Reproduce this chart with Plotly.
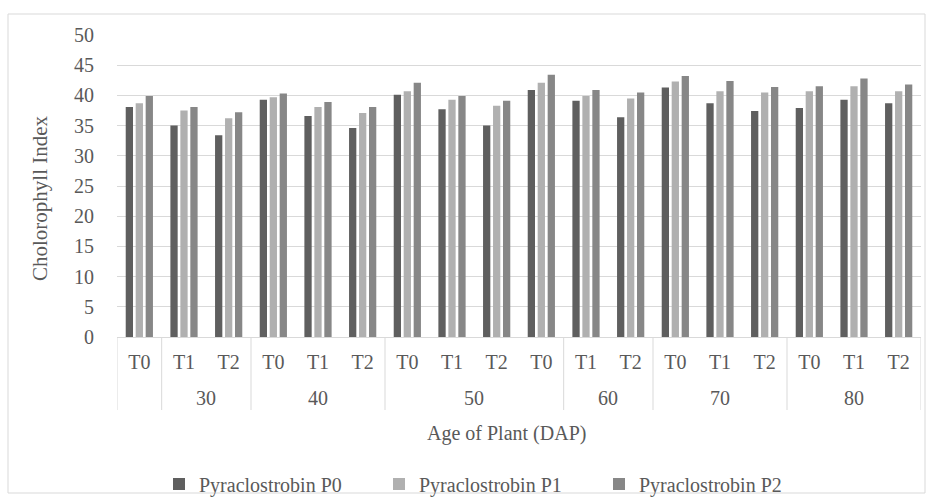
import plotly.graph_objects as go

# ---- data ----
ages = ["", "30", "30", "40", "40", "40", "50", "50", "50", "50",
        "60", "60", "70", "70", "70", "80", "80", "80"]
treatments = ["T0", "T1", "T2", "T0", "T1", "T2", "T0", "T1", "T2", "T0",
              "T1", "T2", "T0", "T1", "T2", "T0", "T1", "T2"]
series_names = ["Pyraclostrobin P0", "Pyraclostrobin P1", "Pyraclostrobin P2"]
p0 = [38.1, 35.0, 33.4, 39.3, 36.6, 34.6, 40.1, 37.7, 35.0, 40.9,
      39.1, 36.4, 41.3, 38.7, 37.4, 37.9, 39.3, 38.7]
p1 = [38.7, 37.5, 36.2, 39.7, 38.1, 37.1, 40.7, 39.3, 38.3, 42.1,
      39.9, 39.5, 42.3, 40.7, 40.5, 40.7, 41.5, 40.7]
p2 = [39.9, 38.1, 37.2, 40.3, 38.9, 38.1, 42.1, 39.9, 39.1, 43.4,
      40.9, 40.5, 43.2, 42.4, 41.4, 41.5, 42.8, 41.8]
y_ticks = [0, 5, 10, 15, 20, 25, 30, 35, 40, 45, 50]

# ---- style ----
colors = ["#5f5f5f", "#b0b0b0", "#878787"]
FONT = "Liberation Serif"
TXT = "#595959"
GRID = "#d9d9d9"

W, H = 931, 500
ML, MR, MT, MB = 117, 10, 35, 163
PW, PH = W - ML - MR, H - MT - MB


def px_x(x):
    return (x - ML) / PW


def px_y(y):
    return (H - MB - y) / PH


xs = list(range(len(treatments)))

fig = go.Figure()
for name, vals, c in zip(series_names, [p0, p1, p2], colors):
    fig.add_trace(go.Bar(x=xs, y=vals, name=name, marker=dict(color=c, line=dict(width=0))))

# group spans
groups = []
start = 0
for i in range(1, len(ages) + 1):
    if i == len(ages) or ages[i] != ages[start]:
        groups.append((ages[start], start, i - 1))
        start = i

annotations = []
shapes = []
div_y0 = px_y(410)
for label, a, b in groups:
    if label:
        annotations.append(dict(x=(a + b) / 2, y=px_y(398), xref="x", yref="paper",
                                text=label, showarrow=False, yanchor="middle",
                                font=dict(family=FONT, size=20, color=TXT)))
    shapes.append(dict(type="line", xref="x", yref="paper", x0=a - 0.5, x1=a - 0.5,
                       y0=div_y0, y1=0, line=dict(color=GRID, width=1)))
shapes.append(dict(type="line", xref="x", yref="paper", x0=len(xs) - 0.5, x1=len(xs) - 0.5,
                   y0=div_y0, y1=0, line=dict(color=GRID, width=1)))
# outer chart frame
shapes.append(dict(type="rect", xref="paper", yref="paper",
                   x0=px_x(8), x1=px_x(925), y0=px_y(493), y1=px_y(14),
                   line=dict(color=GRID, width=1), fillcolor="rgba(0,0,0,0)", layer="below"))

annotations.append(dict(x=px_x(506), y=px_y(433), xref="paper", yref="paper",
                        text="Age of Plant (DAP)", showarrow=False, yanchor="middle",
                        font=dict(family=FONT, size=20, color=TXT)))
annotations.append(dict(x=px_x(40), y=px_y(198), xref="paper", yref="paper",
                        text="Cholorophyll Index", showarrow=False, textangle=-90,
                        xanchor="center", yanchor="middle",
                        font=dict(family=FONT, size=21, color=TXT)))

fig.update_layout(
    width=W, height=H,
    margin=dict(l=ML, r=MR, t=MT, b=MB, autoexpand=False),
    paper_bgcolor="white", plot_bgcolor="white",
    barmode="group", bargap=0.33, bargroupgap=0.27,
    font=dict(family=FONT, color=TXT, size=20),
    showlegend=True,
    legend=dict(orientation="h", x=px_x(489), xanchor="center", y=px_y(484), yanchor="middle",
                font=dict(family=FONT, size=20, color=TXT), entrywidth=175, entrywidthmode="pixels",
                itemwidth=30, bgcolor="rgba(0,0,0,0)"),
    shapes=shapes,
    annotations=annotations,
    xaxis=dict(tickmode="array", tickvals=xs, ticktext=treatments, range=[-0.5, len(xs) - 0.5],
               showgrid=False, zeroline=False, showline=True, linecolor=GRID, linewidth=1,
               ticks="outside", ticklen=7, tickcolor="rgba(0,0,0,0)",
               tickfont=dict(family=FONT, size=20, color=TXT), fixedrange=True),
    yaxis=dict(range=[0, 50], tickmode="array", tickvals=y_ticks, showgrid=True, gridcolor=GRID,
               gridwidth=1, zeroline=False, showline=False,
               ticks="outside", ticklen=18, tickcolor="rgba(0,0,0,0)",
               tickfont=dict(family=FONT, size=20, color=TXT), fixedrange=True),
)

fig.write_html("out.html")
